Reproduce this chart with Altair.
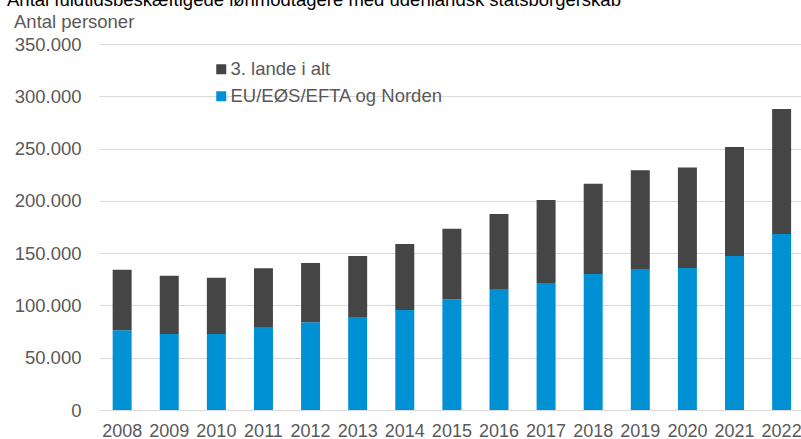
import altair as alt
import pandas as pd

years = [str(y) for y in range(2008, 2023)]
eu_values = [76200, 72700, 72700, 79300, 83800, 88900, 95600, 105800, 115700,
             121400, 130000, 134800, 135800, 147200, 168300]
third_values = [57900, 55700, 53800, 56200, 56700, 58300, 63100, 67500, 71700,
                79400, 86400, 94400, 96200, 104200, 119500]
series_names = ["3. lande i alt", "EU/EØS/EFTA og Norden"]
series_colors = ["#454545", "#0091D5"]
y_ticks = [0, 50000, 100000, 150000, 200000, 250000, 300000, 350000]
title_text = "Antal fuldtidsbeskæftigede lønmodtagere med udenlandsk statsborgerskab"
y_title = "Antal personer"

FONT = "Liberation Sans"
GREY = "#595959"

rows = []
for i, yr in enumerate(years):
    rows.append({"year": yr, "series": series_names[1], "value": eu_values[i], "ord": 0})
    rows.append({"year": yr, "series": series_names[0], "value": third_values[i], "ord": 1})
df = pd.DataFrame(rows)

bars = alt.Chart(df).mark_bar().encode(
    x=alt.X("year:N", sort=years,
            scale=alt.Scale(paddingInner=0.597, paddingOuter=0.25, align=0.58),
            axis=alt.Axis(title=None, labelAngle=0, ticks=False, domain=False, grid=False,
                          labelFontSize=18, labelFont=FONT, labelColor=GREY, labelPadding=12)),
    y=alt.Y("value:Q", stack="zero",
            scale=alt.Scale(domain=[0, 350000], nice=False, zero=True),
            axis=alt.Axis(title=None, values=y_ticks, ticks=False, domain=False, grid=True,
                          gridColor="#d9d9d9", gridWidth=1,
                          labelFontSize=18.5, labelFont=FONT, labelColor=GREY, labelPadding=18,
                          labelExpr="replace(format(datum.value, ','), regexp(',', 'g'), '.')")),
    color=alt.Color("series:N",
                    scale=alt.Scale(domain=series_names, range=series_colors),
                    legend=alt.Legend(title=None, orient="none", legendX=113, legendY=16,
                                      symbolType="square", symbolSize=100, symbolStrokeWidth=0,
                                      symbolOpacity=1, labelFontSize=18.5, labelFont=FONT,
                                      labelColor=GREY, rowPadding=8, labelOffset=0, padding=0,
                                      labelLimit=500)),
    order=alt.Order("ord:Q"),
)

title_layer = alt.Chart(pd.DataFrame({"t": [title_text]})).mark_text(
    align="left", baseline="alphabetic", fontSize=18.5, font=FONT, color="#000000"
).encode(x=alt.value(-92), y=alt.value(-38), text="t:N")

ytitle_layer = alt.Chart(pd.DataFrame({"t": [y_title]})).mark_text(
    align="left", baseline="alphabetic", fontSize=18.5, font=FONT, color=GREY
).encode(x=alt.value(-85), y=alt.value(-16), text="t:N")

chart = alt.layer(bars, title_layer, ytitle_layer).properties(
    width=702, height=366,
    autosize=alt.AutoSizeParams(type="none"),
    padding={"left": 99, "top": 44, "right": 0, "bottom": 29},
).configure_view(stroke=None)

chart.save("out.html", embed_options={"renderer": "svg", "actions": False})
